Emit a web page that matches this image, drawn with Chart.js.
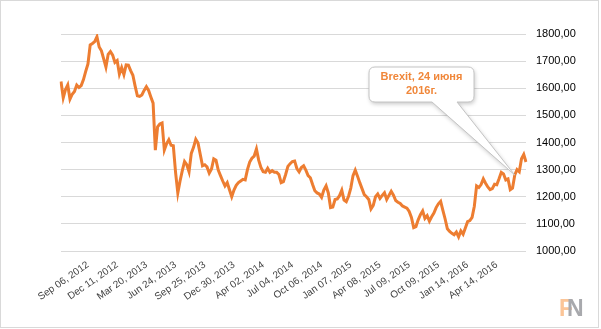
<!DOCTYPE html>
<html>
<head>
<meta charset="utf-8">
<script src="https://cdn.jsdelivr.net/npm/chart.js@4.4.1/dist/chart.umd.min.js"></script>
<style>
  html, body { margin: 0; padding: 0; background: #fff; }
</style>
</head>
<body>
<canvas id="goldChart" width="601" height="329"></canvas>
<script>
// --- data (weekly closes) ---
const tickLabels = [
    "Sep 06, 2012", "Dec 11, 2012", "Mar 20, 2013", "Jun 24, 2013", "Sep 25, 2013",
    "Dec 30, 2013", "Apr 02, 2014", "Jul 04, 2014", "Oct 06, 2014", "Jan 07, 2015",
    "Apr 08, 2015", "Jul 09, 2015", "Oct 09, 2015", "Jan 14, 2016", "Apr 14, 2016"
];
const firstTick = 12;   // index of the first labelled point
const tickStep = 13;    // points between labels

const prices = [
    1625, 1565, 1595, 1612, 1560, 1578, 1588, 1612, 1603, 1610,
    1632, 1662, 1690, 1760, 1765, 1772, 1790, 1752, 1738, 1708,
    1678, 1725, 1735, 1722, 1695, 1702, 1652, 1676, 1650, 1686,
    1685, 1665, 1648, 1608, 1572, 1570, 1575, 1592, 1606, 1592,
    1568, 1545, 1372, 1458, 1468, 1472, 1372, 1395, 1410, 1390,
    1388, 1290, 1214, 1258, 1296, 1330, 1318, 1292, 1360, 1382,
    1412, 1398, 1356, 1314, 1318, 1310, 1287, 1302, 1340, 1335,
    1298, 1278, 1258, 1240, 1252, 1226, 1200, 1225, 1242, 1252,
    1258, 1264, 1262, 1300, 1328, 1342, 1350, 1376, 1335, 1308,
    1292, 1290, 1305, 1290, 1296, 1290, 1290, 1282, 1252, 1256,
    1282, 1312, 1322, 1330, 1332, 1304, 1292, 1308, 1314, 1298,
    1278, 1270, 1245, 1222, 1214, 1210, 1198, 1225, 1240, 1214,
    1160, 1162, 1190, 1192, 1204, 1224, 1188, 1182, 1202, 1232,
    1278, 1298, 1276, 1252, 1230, 1208, 1200, 1190, 1155, 1168,
    1200, 1210, 1194, 1205, 1215, 1190, 1205, 1220, 1206, 1186,
    1180, 1175, 1166, 1162, 1158, 1146, 1124, 1086, 1090, 1115,
    1134, 1148, 1120, 1130, 1110, 1126, 1140, 1160, 1174, 1183,
    1150, 1118, 1082, 1072, 1065, 1060, 1070, 1052, 1074, 1062,
    1085, 1108, 1112, 1124, 1165, 1240, 1234, 1245, 1266, 1250,
    1236, 1226, 1230, 1246, 1244, 1266, 1290, 1284, 1262, 1266,
    1226, 1232, 1280, 1300, 1292, 1340, 1356, 1328
];

const brexitIndex = 202;
const brexitText = ["Brexit, 24 июня", "2016г."];

const labels = prices.map((p, i) => {
    const k = (i - firstTick) / tickStep;
    return (Number.isInteger(k) && k >= 0 && k < tickLabels.length) ? tickLabels[k] : "";
});

// --- border, callout and logo ---
const extras = {
    id: "extras",
    afterDraw(chart) {
        const c = chart.ctx;
        c.save();
        c.strokeStyle = "#d9d9d9";
        c.lineWidth = 1;
        c.strokeRect(0.5, 0.5, 598, 327);

        // callout box with pointer to the Brexit day
        const pt = chart.getDatasetMeta(0).data[brexitIndex];
        const bx = 369, by = 67, bw = 105, bh = 35, r = 6;
        const p1 = 432, p2 = 457;
        c.beginPath();
        c.moveTo(bx + r, by);
        c.lineTo(bx + bw - r, by);
        c.quadraticCurveTo(bx + bw, by, bx + bw, by + r);
        c.lineTo(bx + bw, by + bh - r);
        c.quadraticCurveTo(bx + bw, by + bh, bx + bw - r, by + bh);
        c.lineTo(p2, by + bh);
        c.lineTo(pt.x, pt.y);
        c.lineTo(p1, by + bh);
        c.lineTo(bx + r, by + bh);
        c.quadraticCurveTo(bx, by + bh, bx, by + bh - r);
        c.lineTo(bx, by + r);
        c.quadraticCurveTo(bx, by, bx + r, by);
        c.closePath();
        c.shadowColor = "rgba(0,0,0,0.22)";
        c.shadowBlur = 4;
        c.shadowOffsetX = 1;
        c.shadowOffsetY = 2;
        c.fillStyle = "#fff";
        c.fill();
        c.shadowColor = "transparent";
        c.strokeStyle = "#c4c4c4";
        c.stroke();

        c.fillStyle = "#f0873a";
        c.font = "bold 11px 'Liberation Sans'";
        c.textAlign = "center";
        c.textBaseline = "middle";
        c.fillText(brexitText[0], bx + bw / 2, by + 10);
        c.fillText(brexitText[1], bx + bw / 2, by + 24);

        // logo
        c.font = "bold 23px 'Liberation Sans'";
        c.textAlign = "left";
        c.textBaseline = "alphabetic";
        c.fillStyle = "#fbc598";
        c.fillText("F", 559, 316);
        c.fillStyle = "#a8a9ad";
        c.fillText("N", 567, 316);
        c.restore();
    }
};

// --- Chart.js setup ---
const ctx = document.getElementById("goldChart").getContext("2d");
const goldChart = new Chart(ctx, {
    type: "line",
    data: {
        labels: labels,
        datasets: [{
            data: prices,
            borderColor: "#ed7d31",
            borderWidth: 3,
            pointRadius: 0,
            tension: 0,
            fill: false
        }]
    },
    options: {
        responsive: false,
        animation: false,
        layout: { padding: { left: 61, top: 34, right: 0, bottom: 0 } },
        plugins: { legend: { display: false }, tooltip: { enabled: false } },
        scales: {
            x: {
                grid: { display: false, drawTicks: false },
                border: { display: false },
                ticks: {
                    autoSkip: false,
                    minRotation: 35,
                    maxRotation: 35,
                    padding: 8,
                    color: "#404040",
                    font: { family: "'Liberation Sans'", size: 10 }
                },
                afterFit: s => { s.height = 78; }
            },
            y: {
                position: "right",
                min: 1000,
                max: 1800,
                grid: { color: "#d9d9d9", drawTicks: false },
                border: { display: false },
                ticks: {
                    stepSize: 100,
                    padding: 10,
                    color: "#000",
                    font: { family: "'Liberation Sans'", size: 11 },
                    callback: v => v.toFixed(2).replace(".", ",")
                },
                afterFit: s => { s.width = 75; }
            }
        }
    },
    plugins: [extras]
});
</script>
</body>
</html>
